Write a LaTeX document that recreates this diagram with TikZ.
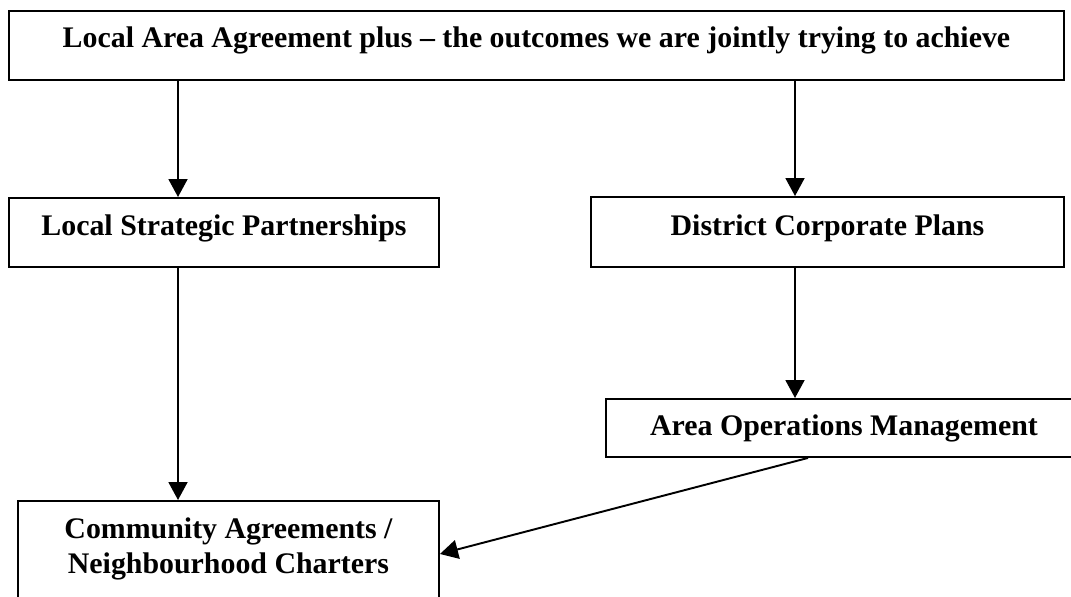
\documentclass[tikz,border=0pt]{standalone}
\usepackage{fontspec}
\setmainfont{Liberation Serif}
\usetikzlibrary{arrows.meta}

\tikzset{
  planbox/.style={draw, anchor=north west, inner xsep=0pt, inner ysep=0pt,
    align=center, font=\bfseries\fontsize{17}{20}\selectfont},
}

\begin{document}
\begin{tikzpicture}[>={Triangle[length=3.6mm,width=3.8mm]}, line width=1.1pt]
  \path[use as bounding box, clip] (0,0) rectangle (21.42,-11.92);

  \node[planbox, minimum width=21.1cm, text height=.74cm, text depth=.64cm] (laa) at (0.16,-0.2)
    {Local Area Agreement plus -- the outcomes we are jointly trying to achieve};

  \node[planbox, minimum width=8.6cm, text height=.76cm, text depth=.62cm] (lsp) at (0.16,-3.94)
    {Local Strategic Partnerships};
  \node[planbox, minimum width=9.46cm, text height=.78cm, text depth=.62cm] (dcp) at (11.8,-3.92)
    {District Corporate Plans};

  \node[planbox, minimum width=9.52cm, text height=.74cm, text depth=.42cm] (aom) at (12.1,-7.96)
    {Area Operations Management};
  \node[planbox, minimum width=8.42cm, text height=1.46cm, text depth=.94cm] (cab) at (0.34,-10.0)
    {Community Agreements /\\Neighbourhood Charters};

  % where the arrows run
  \coordinate (lx) at (3.56,0);
  \coordinate (rx) at (15.9,0);
  \coordinate (ax) at (16.16,0);
  \coordinate (cy) at (0,-11.08);

  \draw[->] (laa.south -| lx) -- (lsp.north -| lx);
  \draw[->] (laa.south -| rx) -- (dcp.north -| rx);
  \draw[->] (lsp.south -| lx) -- (cab.north -| lx);
  \draw[->] (dcp.south -| rx) -- (aom.north -| rx);
  \draw[->] (aom.south -| ax) -- (cab.east |- cy);
\end{tikzpicture}
\end{document}
